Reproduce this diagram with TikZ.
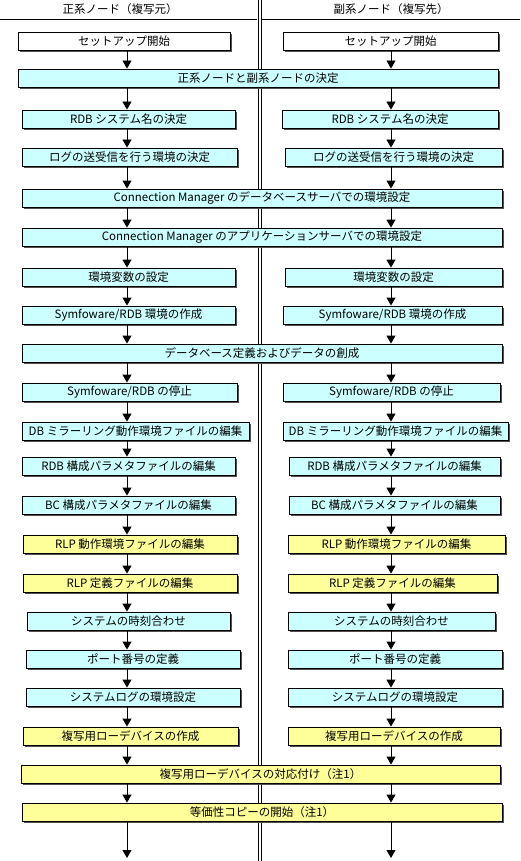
\documentclass[tikz,border=0pt]{standalone}
\usepackage{fontspec}
\setmainfont{Noto Sans CJK JP}
\usepackage{tikz}
\usetikzlibrary{arrows.meta,shadows}
\definecolor{paleblue}{HTML}{CCFFFF}
\definecolor{paleyel}{HTML}{FFFF99}
\definecolor{shade}{HTML}{505050}
% node name, style, left x, right x, centre y, text
\newcommand{\stepnode}[6]{\node[#2,minimum width={#4-#3}] (#1) at ({(#3+#4)/2},#5) {#6};}

\begin{document}
\begin{tikzpicture}[x=1pt,y=-1pt,
  box/.style={draw,line width=0.9pt,inner sep=0pt,minimum height=18pt,
    font=\fontsize{11.5}{13}\selectfont,
    drop shadow={shadow xshift=2pt,shadow yshift=-2pt,fill=shade,opacity=1}},
  plain/.style={box,fill=white},
  bluebox/.style={box,fill=paleblue},
  yelbox/.style={box,fill=paleyel},
  arr/.style={-{Triangle[width=9pt,length=8pt]},line width=0.9pt}]
  \fill[white] (0,0) rectangle (520,861);
  \useasboundingbox (0,0) rectangle (520,861);
  % headers and separators
  \node[font=\fontsize{11.5}{13}\selectfont] (hl) at (120,9) {正系ノード（複写元）};
  \node[font=\fontsize{11.5}{13}\selectfont] (hr) at (391,9) {副系ノード（複写先）};
  \draw[line width=0.9pt] (0,19)--(257,19) (262,19)--(520,19);
  \draw[line width=1.3pt] (258.3,0)--(258.3,861) (261.4,0)--(261.4,861);
  \coordinate (lc) at (127,0);
  \coordinate (rc) at (391,0);
  % steps
  \stepnode{L1}{plain}{18}{230}{41}{セットアップ開始}
  \stepnode{R1}{plain}{283}{498}{41}{セットアップ開始}
  \stepnode{W2}{bluebox}{18}{498}{78}{正系ノードと副系ノードの決定}
  \stepnode{L3}{bluebox}{22}{235}{119}{RDB システム名の決定}
  \stepnode{R3}{bluebox}{282}{498}{119}{RDB システム名の決定}
  \stepnode{L4}{bluebox}{22}{237}{157}{ログの送受信を行う環境の決定}
  \stepnode{R4}{bluebox}{285}{502}{157}{ログの送受信を行う環境の決定}
  \stepnode{W5}{bluebox}{22}{502}{198}{Connection Manager のデータベースサーバでの環境設定}
  \stepnode{W6}{bluebox}{22}{502}{237}{Connection Manager のアプリケーションサーバでの環境設定}
  \stepnode{L7}{bluebox}{22}{235}{277}{環境変数の設定}
  \stepnode{R7}{bluebox}{285}{502}{277}{環境変数の設定}
  \stepnode{L8}{bluebox}{22}{235}{315}{Symfoware/RDB 環境の作成}
  \stepnode{R8}{bluebox}{283}{502}{315}{Symfoware/RDB 環境の作成}
  \stepnode{W9}{bluebox}{22}{502}{353}{データベース定義およびデータの創成}
  \stepnode{L10}{bluebox}{22}{237}{392}{Symfoware/RDB の停止}
  \stepnode{R10}{bluebox}{283}{500}{392}{Symfoware/RDB の停止}
  \stepnode{L11}{bluebox}{22}{249}{431}{DB ミラーリング動作環境ファイルの編集}
  \stepnode{R11}{bluebox}{283}{508}{431}{DB ミラーリング動作環境ファイルの編集}
  \stepnode{L12}{bluebox}{22}{235}{466}{RDB 構成パラメタファイルの編集}
  \stepnode{R12}{bluebox}{289}{500}{466}{RDB 構成パラメタファイルの編集}
  \stepnode{L13}{bluebox}{22}{235}{505}{BC 構成パラメタファイルの編集}
  \stepnode{R13}{bluebox}{289}{500}{505}{BC 構成パラメタファイルの編集}
  \stepnode{L14}{yelbox}{23}{237}{544}{RLP 動作環境ファイルの編集}
  \stepnode{R14}{yelbox}{288}{505}{544}{RLP 動作環境ファイルの編集}
  \stepnode{L15}{yelbox}{23}{237}{583}{RLP 定義ファイルの編集}
  \stepnode{R15}{yelbox}{288}{497}{583}{RLP 定義ファイルの編集}
  \stepnode{L16}{bluebox}{27}{230}{621}{システムの時刻合わせ}
  \stepnode{R16}{bluebox}{288}{495}{621}{システムの時刻合わせ}
  \stepnode{L17}{bluebox}{26}{240}{659}{ポート番号の定義}
  \stepnode{R17}{bluebox}{288}{502}{659}{ポート番号の定義}
  \stepnode{L18}{bluebox}{26}{240}{697}{システムログの環境設定}
  \stepnode{R18}{bluebox}{288}{502}{697}{システムログの環境設定}
  \stepnode{L19}{yelbox}{23}{238}{736}{複写用ローデバイスの作成}
  \stepnode{R19}{yelbox}{288}{500}{736}{複写用ローデバイスの作成}
  \stepnode{W20}{yelbox}{21}{500}{774}{複写用ローデバイスの対応付け（注1）}
  \stepnode{W21}{yelbox}{22}{502}{812}{等価性コピーの開始（注1）}
  % arrows
  \foreach \a/\b in {L1/W2,W2/L3,L3/L4,L4/W5,W5/W6,W6/L7,L7/L8,L8/W9,W9/L10,L10/L11,
     L11/L12,L12/L13,L13/L14,L14/L15,L15/L16,L16/L17,L17/L18,L18/L19,L19/W20,W20/W21}
     {\draw[arr] (lc |- \a.south)--(lc |- \b.north);}
  \foreach \a/\b in {R1/W2,W2/R3,R3/R4,R4/W5,W5/W6,W6/R7,R7/R8,R8/W9,W9/R10,R10/R11,
     R11/R12,R12/R13,R13/R14,R14/R15,R15/R16,R16/R17,R17/R18,R18/R19,R19/W20,W20/W21}
     {\draw[arr] (rc |- \a.south)--(rc |- \b.north);}
  \coordinate (endL) at (127,858);
  \coordinate (endR) at (391,858);
  \draw[arr] (lc |- W21.south)--(endL);
  \draw[arr] (rc |- W21.south)--(endR);
\end{tikzpicture}
\end{document}
